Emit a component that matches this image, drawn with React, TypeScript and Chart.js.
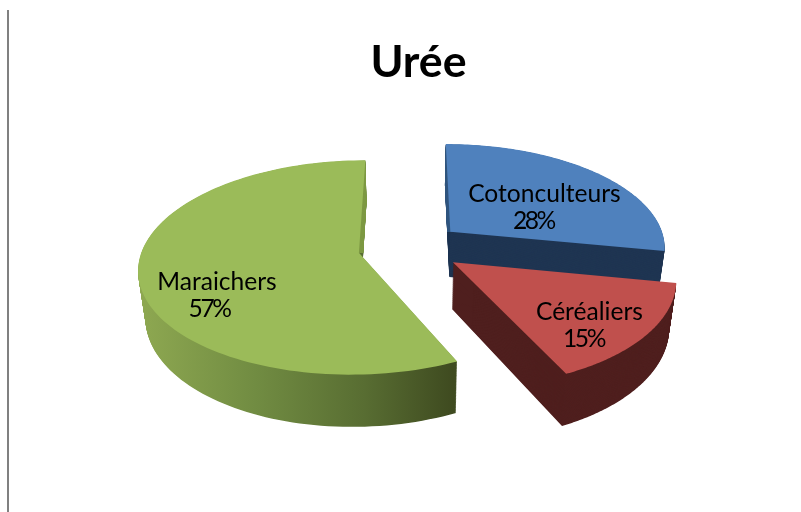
import React, { useEffect, useRef } from "react";
import { Chart, registerables } from "chart.js";

Chart.register(...registerables);

const titleText = "Urée";
const categories = ["Cotonculteurs", "Céréaliers", "Maraichers"];
const shares = [28, 15, 57];
const topColors = ["#4f81bd", "#c0504d", "#9bbb59"];
const wallColors = ["#1f3552", "#4f1f1e", "#5f7435"];
const innerWallColors = ["#33577f", null, "#7f9a45"];
const explode = [47, 47, 50];
const drawOrder = [0, 2, 1];

// label placement inside each slice: fraction of radius, and turn from the slice's mid-angle (degrees)
const labelFraction = [0.52, 0.77, 0.725];
const labelTurn = [8, 6, -18];
const nameShift = [5, 1, 4];
const percentShift = [-6, -5, -4];

const FONT = "Lato, Carlito, sans-serif";

// 3D view: the flat pie is laid on a plane seen in perspective
const view = { x0: 412, y0: 247, R: 216, S: 103.6, p: 0.1366 };
const wall = { shrink: 0.973, depth: 46, slope: 0.05, layers: 70 };

function project(u: number, v: number) {
  const k = 1 / (1 - view.p * v);
  return { x: view.x0 + view.R * u * k, y: view.y0 + view.S * v * k };
}

function lower(pt: { x: number; y: number }, t: number) {
  const sx = 1 + (wall.shrink - 1) * t;
  return {
    x: view.x0 + (pt.x - view.x0) * sx,
    y: pt.y + t * (wall.depth + wall.slope * (pt.y - 250)),
  };
}

const pie3d = {
  id: "pie3d",
  beforeDatasetsDraw(chart: any) {
    const ctx: CanvasRenderingContext2D = chart.ctx;
    const arcs = chart.getDatasetMeta(0).data;
    const outlines = arcs.map((arc: any) => {
      const { startAngle, endAngle, outerRadius } = arc.getProps(
        ["startAngle", "endAngle", "outerRadius"],
        true
      );
      const mid = (startAngle + endAngle) / 2;
      const e = arc.options.offset / outerRadius;
      const au = Math.cos(mid) * e;
      const av = Math.sin(mid) * e;
      const pts = [project(au, av)];
      const steps = 120;
      for (let i = 0; i <= steps; i++) {
        const a = startAngle + ((endAngle - startAngle) * i) / steps;
        pts.push(project(au + Math.cos(a), av + Math.sin(a)));
      }
      return { pts, au, av, mid };
    });

    const trace = (pts: { x: number; y: number }[]) => {
      ctx.beginPath();
      pts.forEach((p, i) => (i ? ctx.lineTo(p.x, p.y) : ctx.moveTo(p.x, p.y)));
      ctx.closePath();
    };

    const greenWall = ctx.createLinearGradient(140, 0, 452, 0);
    greenWall.addColorStop(0, "#8ea851");
    greenWall.addColorStop(0.37, "#718c42");
    greenWall.addColorStop(0.72, "#586d32");
    greenWall.addColorStop(1, "#3f4b20");

    for (const i of drawOrder) {
      const { pts } = outlines[i];
      const stack = () => {
        for (let l = wall.layers; l >= 1; l--) {
          const t = l / wall.layers;
          trace(pts.map((p: any) => lower(p, t)));
          ctx.fill();
        }
      };
      ctx.fillStyle = i === 2 ? greenWall : wallColors[i];
      stack();
      const inner = innerWallColors[i];
      if (inner) {
        // the cut face behind the slice's apex catches more light
        ctx.save();
        ctx.beginPath();
        ctx.rect(0, 0, chart.width, pts[0].y);
        ctx.clip();
        ctx.fillStyle = inner;
        stack();
        ctx.restore();
      }
      ctx.fillStyle = topColors[i];
      trace(pts);
      ctx.fill();
    }

    // slice labels
    ctx.fillStyle = "#000";
    ctx.textAlign = "center";
    ctx.textBaseline = "middle";
    ctx.font = `24.6px ${FONT}`;
    const total = shares.reduce((a, b) => a + b, 0);
    outlines.forEach((o: any, i: number) => {
      const ang = o.mid + (labelTurn[i] * Math.PI) / 180;
      const c = project(
        o.au + Math.cos(ang) * labelFraction[i],
        o.av + Math.sin(ang) * labelFraction[i]
      );
      (ctx as any).letterSpacing = "0px";
      ctx.fillText(categories[i], c.x + nameShift[i], c.y - 12);
      (ctx as any).letterSpacing = "-2.5px";
      ctx.fillText(`${Math.round((shares[i] / total) * 100)}%`, c.x + percentShift[i], c.y + 15);
    });
    (ctx as any).letterSpacing = "0px";
    return false;
  },
};

export default function App() {
  const ref = useRef<HTMLCanvasElement>(null);
  useEffect(() => {
    document.body.style.margin = "0";
    const chart = new Chart(ref.current!, {
      type: "pie",
      data: {
        labels: categories,
        datasets: [
          {
            data: shares,
            backgroundColor: topColors,
            borderWidth: 0,
            offset: explode,
            radius: 200,
          } as any,
        ],
      },
      options: {
        animation: false,
        responsive: false,
        layout: { padding: { left: 36 } },
        plugins: {
          legend: { display: false },
          tooltip: { enabled: false },
          title: {
            display: true,
            text: titleText,
            color: "#000",
            font: { family: FONT, size: 44.7, weight: "bold" },
            padding: { top: 36, bottom: 10 },
          },
        },
      },
      plugins: [pie3d],
    } as any);
    return () => chart.destroy();
  }, []);
  return (
    <div style={{ position: "absolute", left: 0, top: 0, width: 801, height: 512, background: "#fff" }}>
      <canvas ref={ref} width={801} height={512} style={{ display: "block", filter: "blur(0.5px)" }} />
      <div style={{ position: "absolute", left: 7, top: 10, width: 2, height: 502, background: "#808080" }} />
    </div>
  );
}
